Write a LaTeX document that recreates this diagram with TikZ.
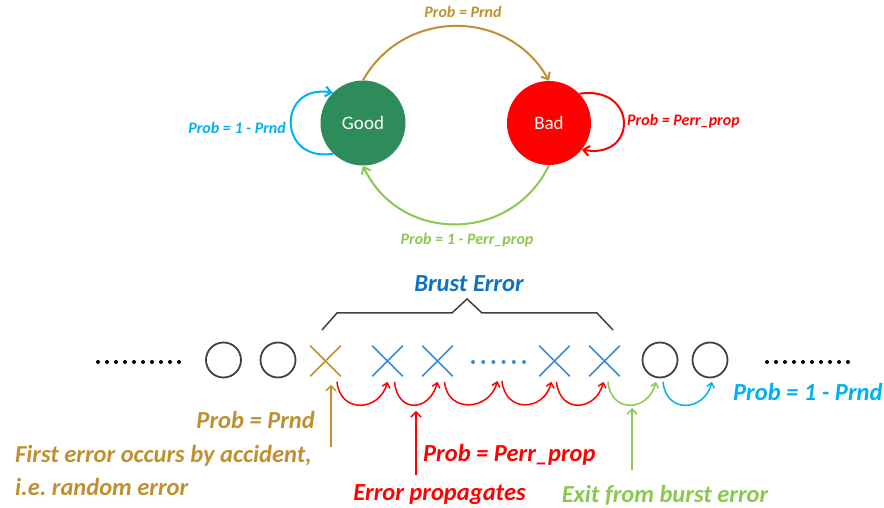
\documentclass[tikz,border=0pt]{standalone}
\usepackage{fontspec}
\setmainfont{Carlito}
\usetikzlibrary{arrows.meta,shapes.misc}
\definecolor{goldc}{HTML}{BF9030}
\definecolor{greenc}{HTML}{8CC850}
\definecolor{cyanc}{HTML}{00B0F0}
\definecolor{xblue}{HTML}{3A8AD6}
\definecolor{titleblue}{HTML}{0B72C4}
\definecolor{goodc}{HTML}{2E8B5A}
\definecolor{grayc}{HTML}{404040}
\frenchspacing
\begin{document}
\begin{tikzpicture}[x=1pt,y=1pt,
 state/.style={circle, minimum size=85pt, inner sep=0pt, text=white, font=\fontsize{19}{19}\selectfont},
 lbl/.style={font=\fontsize{16}{16}\selectfont\bfseries\itshape, inner sep=0pt},
 big/.style={font=\fontsize{24.5}{24.5}\selectfont\bfseries\itshape, inner sep=0pt},
 arcarrow/.style={line width=2pt, -{Straight Barb[length=6pt,width=10pt]}},
 hop/.style={line width=1.5pt, -{Straight Barb[length=4.5pt,width=8pt]}},
 uparrow/.style={line width=1.5pt, -{Straight Barb[length=5pt,width=10pt]}},
 ring/.style={circle, draw=grayc, line width=1.8pt, minimum size=35pt, inner sep=0pt},
 xmark/.style={cross out, draw=#1, line width=1.6pt, minimum size=29pt, inner sep=0pt},
 dotn/.style={circle, fill=#1, minimum size=4pt, inner sep=0pt},
]
\useasboundingbox (0,0) rectangle (884,508);
% ---- state diagram ----
\node[state, fill=goodc] (good) at (363,385) {Good};
\node[state, fill=red, minimum size=84pt] (bad) at (549,385) {Bad};
\draw[arcarrow, goldc] (good.north) .. controls (403.5,500) and (508.5,500) .. (bad.north);
\node[lbl, text=goldc] (lprnd) at (463,496) {Prob = Prnd};
\draw[arcarrow, greenc] (bad.south) .. controls (511.5,264.3) and (399.5,264.3) .. (good.south);
\node[lbl, text=greenc] (lback) at (467,268) {Prob = 1 - Perr\_prop};
\draw[arcarrow, cyanc] (good.226) .. controls (277,345) and (277,425) .. (good.135);
\node[lbl, text=cyanc, anchor=east] (lstay) at (286,380) {Prob = 1 - Prnd};
\draw[arcarrow, red] (bad.44) .. controls (638,423) and (638,348) .. (bad.-39);
\node[lbl, text=red, anchor=west] (lprop) at (627,387) {Prob = Perr\_prop};
% ---- burst sequence ----
\node[font=\fontsize{24.5}{24.5}\selectfont\bfseries\itshape, text=titleblue, inner sep=0pt] (title) at (469,224) {Brust Error};
\draw[grayc, line width=1.5pt] (322,178) -- (337,195) -- (452,195) -- (467,209) -- (482,195) -- (597,195) -- (613,178);
\foreach \i in {0,...,9} \node[dotn=black] (ld\i) at (98+9*\i,146) {};
\node[ring] (c1) at (223.5,148) {};
\node[ring] (c2) at (278,148) {};
\node[xmark=goldc] (gx) at (325.5,147) {};
\node[xmark=xblue] (x1) at (387.5,147) {};
\node[xmark=xblue] (x2) at (437.5,147) {};
\foreach \i in {0,...,5} \node[dotn=xblue] (bd\i) at (473+10.2*\i,146) {};
\node[xmark=xblue] (x3) at (554.5,147) {};
\node[xmark=xblue] (x4) at (604.5,147) {};
\node[ring] (c3) at (660,148) {};
\node[ring] (c4) at (710,148) {};
\foreach \i in {0,...,9} \node[dotn=black] (rd\i) at (767+9*\i,146) {};
% hops
\draw[hop, red] ([xshift=11.5pt,yshift=-5.5pt]gx.south) .. controls +(3,-32) and +(-8,-30) .. ([yshift=-5.5pt]x1.south);
\draw[hop, red] ([xshift=7pt,yshift=-5.5pt]x1.south) .. controls +(3,-32) and +(-8,-30) .. ([yshift=-5.5pt]x2.south);
\draw[hop, red] ([xshift=7pt,yshift=-5.5pt]x2.south) .. controls +(3,-32) and +(-8,-30) .. ([xshift=4pt,yshift=-19pt]bd2.center);
\draw[hop, red] ([xshift=-1.6pt,yshift=-19pt]bd3.center) .. controls +(3,-32) and +(-8,-30) .. ([xshift=-3pt,yshift=-5.5pt]x3.south);
\draw[hop, red] ([xshift=2pt,yshift=-5.5pt]x3.south) .. controls +(3,-32) and +(-8,-30) .. ([xshift=-1pt,yshift=-5.5pt]x4.south);
\draw[hop, greenc] ([xshift=3.5pt,yshift=-5.5pt]x4.south) .. controls +(3,-32) and +(-8,-30) .. ([xshift=-4pt,yshift=-3.5pt]c3.south);
\draw[hop, cyanc] ([xshift=3pt,yshift=-3.5pt]c3.south) .. controls +(3,-32) and +(-8,-30) .. ([xshift=2pt,yshift=-3.5pt]c4.south);
% up arrows
\coordinate (gtail) at (331,61);
\draw[uparrow, goldc] (gtail) -- ([xshift=5.5pt,yshift=-8.5pt]gx.south);
\coordinate (rtail) at (416,33);
\coordinate (rtip) at (416,97);
\draw[uparrow, red] (rtail) -- (rtip);
\coordinate (etail) at (632,38);
\coordinate (etip) at (632,100);
\draw[uparrow, greenc] (etail) -- (etip);
% texts
\node[big, text=goldc, anchor=east] (t1) at (315,88) {Prob = Prnd};
\node[big, text=goldc, anchor=west] (t2) at (15,52) {First error occurs by accident,};
\node[big, text=goldc, anchor=west] (t3) at (15,21) {i.e. random error};
\node[big, text=red, anchor=west] (t4) at (423,53) {Prob = Perr\_prop};
\node[big, text=red] (t5) at (439.5,13) {Error propagates};
\node[big, text=greenc] (t6) at (665,13) {Exit from burst error};
\node[big, text=cyanc, anchor=west] (t7) at (733,116) {Prob = 1 - Prnd};
\end{tikzpicture}
\end{document}
